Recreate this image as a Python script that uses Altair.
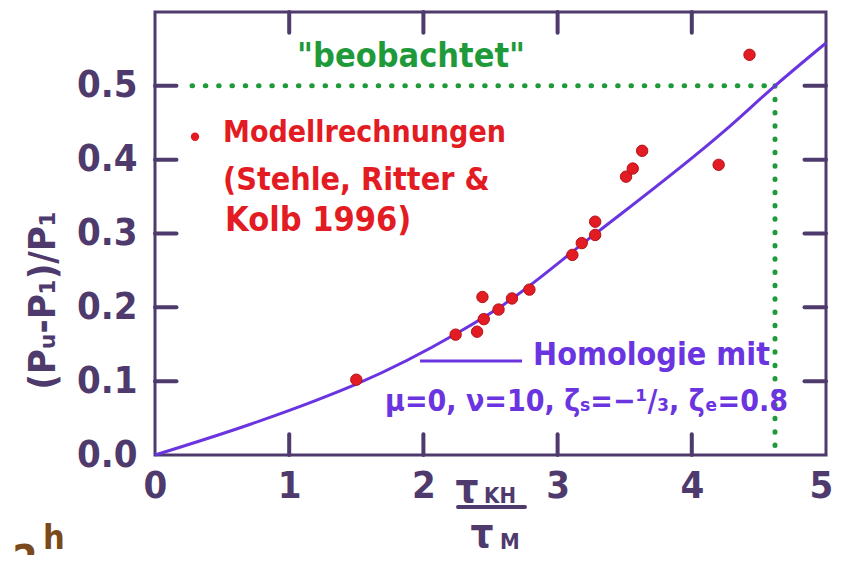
import altair as alt
import pandas as pd

# ---- data ----
model_x = [1.50, 2.24, 2.40, 2.45, 2.44, 2.56, 2.66, 2.79, 3.11, 3.18, 3.28, 3.28, 3.51, 3.56, 3.63, 4.20, 4.43]
model_y = [0.102, 0.163, 0.167, 0.184, 0.214, 0.197, 0.212, 0.224, 0.271, 0.287, 0.298, 0.316, 0.377, 0.388, 0.412, 0.393, 0.542]

homology_x = [0.0, 0.7, 1.2, 1.5, 2.25, 2.6, 3.22, 4.25, 4.62, 5.0]
homology_y = [0.0, 0.041, 0.074, 0.096, 0.165, 0.204, 0.291, 0.440, 0.500, 0.558]

x_tick_values = [0, 1, 2, 3, 4, 5]
y_tick_values = [0.0, 0.1, 0.2, 0.3, 0.4, 0.5]
inner_x_ticks = [1, 2, 3, 4]
inner_y_ticks = [0.1, 0.2, 0.3, 0.4, 0.5]

observed_y = 0.5
observed_x = 4.62

FONT = "DejaVu Sans Condensed"
AXC = "#4e3a6c"
LINE = "#6a35e0"
RED = "#e31b23"
GREEN = "#1f9a3a"
BROWN = "#7b4a1c"

xs = alt.Scale(domain=[0, 5], nice=False, zero=False)
ys = alt.Scale(domain=[0, 0.6], nice=False, zero=False)


def X(f="x"):
    return alt.X(f"{f}:Q", scale=xs)


def Y(f="y"):
    return alt.Y(f"{f}:Q", scale=ys)


points = alt.Chart(pd.DataFrame({"x": model_x, "y": model_y})).mark_circle(
    size=130, color=RED, opacity=1, stroke="#b3121a", strokeWidth=1
).encode(
    x=alt.X("x:Q", scale=xs, axis=alt.Axis(
        values=x_tick_values, format="d", ticks=False, domain=False, grid=False,
        labelFontSize=38, labelFont=FONT, labelFontWeight="bold", labelColor=AXC, labelPadding=12,
        labelOffset={"condition": {"test": "datum.value === 5", "value": -5}, "value": 0},
        labelFlush=False, labelOverlap=False, title=None)),
    y=alt.Y("y:Q", scale=ys, axis=alt.Axis(
        values=y_tick_values, format=".1f", ticks=False, domain=False, grid=False,
        labelFontSize=38, labelFont=FONT, labelFontWeight="bold", labelColor=AXC, labelPadding=18,
        labelFlush=False, labelOverlap=False,
        title="(Pᵤ-P₁)/P₁", titleFont=FONT, titleFontSize=38, titleFontWeight="bold",
        titleColor=AXC, titleAngle=270, titleX=-112, titleY=288,
        titleAlign="center", titleBaseline="middle")),
)

curve = alt.Chart(pd.DataFrame({"x": homology_x, "y": homology_y})).mark_line(
    color=LINE, strokeWidth=3, interpolate="monotone"
).encode(x=X(), y=Y())

# inward tick marks on all four sides
lt = alt.Chart(pd.DataFrame({"y": inner_y_ticks, "x0": [0] * 5, "x1": [0.16] * 5})).mark_rule(
    color=AXC, strokeWidth=4, strokeCap="round").encode(x=X("x0"), x2="x1", y=Y())
rt = alt.Chart(pd.DataFrame({"y": inner_y_ticks, "x0": [4.84] * 5, "x1": [5] * 5})).mark_rule(
    color=AXC, strokeWidth=4, strokeCap="round").encode(x=X("x0"), x2="x1", y=Y())
bt = alt.Chart(pd.DataFrame({"x": inner_x_ticks, "y0": [0] * 4, "y1": [0.028] * 4})).mark_rule(
    color=AXC, strokeWidth=4, strokeCap="round").encode(x=X(), y=Y("y0"), y2="y1")
tt = alt.Chart(pd.DataFrame({"x": inner_x_ticks, "y0": [0.572] * 4, "y1": [0.6] * 4})).mark_rule(
    color=AXC, strokeWidth=4, strokeCap="round").encode(x=X(), y=Y("y0"), y2="y1")

# observed value dotted lines
hdot = alt.Chart(pd.DataFrame({"x0": [0.276], "x1": [observed_x], "y": [observed_y]})).mark_rule(
    color=GREEN, strokeWidth=5, strokeCap="round", strokeDash=[0.5, 12.8]
).encode(x=X("x0"), x2="x1", y=Y())
vdot = alt.Chart(pd.DataFrame({"x": [observed_x], "y0": [observed_y], "y1": [0.008]})).mark_rule(
    color=GREEN, strokeWidth=5, strokeCap="round", strokeDash=[0.5, 12.8]
).encode(x=X(), y=Y("y0"), y2="y1")


def label(x, y, s, color, size, align="left", weight="bold", baseline="middle"):
    return alt.Chart(pd.DataFrame({"x": [x], "y": [y], "t": [s]})).mark_text(
        color=color, fontSize=size, font=FONT, fontWeight=weight,
        align=align, baseline=baseline
    ).encode(x=X(), y=Y(), text="t:N")


leg_dot = alt.Chart(pd.DataFrame({"x": [0.298], "y": [0.431]})).mark_circle(
    size=70, color=RED, opacity=1).encode(x=X(), y=Y())
leg_line = alt.Chart(pd.DataFrame({"x0": [1.975], "x1": [2.735], "y": [0.1274]})).mark_rule(
    color=LINE, strokeWidth=3).encode(x=X("x0"), x2="x1", y=Y())
frac_bar = alt.Chart(pd.DataFrame({"x0": [2.258], "x1": [2.757], "y": [-0.0705]})).mark_rule(
    color=AXC, strokeWidth=4, strokeCap="round").encode(x=X("x0"), x2="x1", y=Y())

texts = [
    label(1.908, 0.539, '"beobachtet"', GREEN, 34, align="center"),
    label(0.507, 0.4363, "Modellrechnungen", RED, 30),
    label(0.507, 0.3726, "(Stehle, Ritter &", RED, 32),
    label(0.522, 0.317, "Kolb 1996)", RED, 34),
    label(2.817, 0.1355, "Homologie  mit", LINE, 32),
    label(1.714, 0.0718, "μ=0, ν=10, ζₛ=−¹/₃, ζₑ=0.8", LINE, 30),
    label(2.325, -0.0474, "τ", AXC, 40, align="center"),
    label(2.571, -0.0556, "KH", AXC, 22, align="center"),
    label(2.437, -0.108, "τ", AXC, 40, align="center"),
    label(2.645, -0.118, "M", AXC, 22, align="center"),
    label(-0.969, -0.145, "2", BROWN, 40, align="center"),
    label(-0.753, -0.114, "h", BROWN, 34, align="center"),
]

chart = alt.layer(
    hdot, vdot, lt, rt, bt, tt, curve, points, leg_dot, leg_line, frac_bar, *texts
).properties(
    width=671, height=443,
    autosize=alt.AutoSizeParams(type="none"),
    padding={"left": 147, "top": 4, "right": 7, "bottom": 100},
    background="#ffffff",
).configure_view(
    stroke=AXC, strokeWidth=3
)

chart.save("out.html", embed_options={"renderer": "svg", "actions": False})
